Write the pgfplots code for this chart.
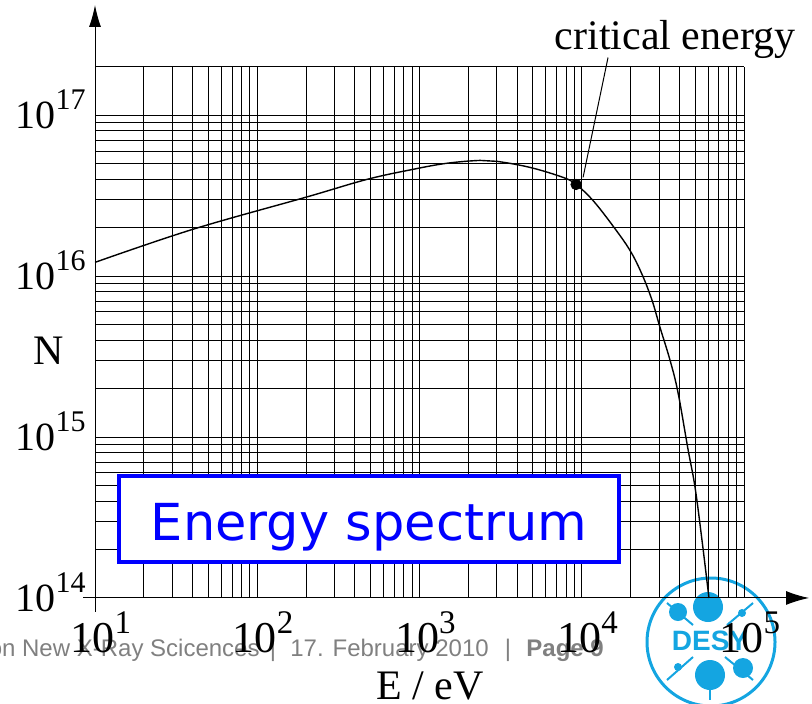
\documentclass[border=0pt]{standalone}
\usepackage{fontspec}
\setmainfont{Liberation Serif}
\newfontfamily\sansA{Liberation Sans}
\newfontfamily\dejavu{DejaVu Sans}
\usepackage{pgfplots}
\pgfplotsset{compat=1.18}
\usetikzlibrary{arrows.meta}
\definecolor{desyblue}{RGB}{20,165,225}
\definecolor{footgray}{RGB}{128,128,128}

\newcommand{\xlab}[1]{\fontsize{22}{24}\selectfont 10\rlap{\raisebox{9.5pt}[0pt][0pt]{\fontsize{16.5}{18}\selectfont #1}}}
\newcommand{\ylab}[1]{\fontsize{20}{22}\selectfont 10\raisebox{9.5pt}[0pt][0pt]{\fontsize{15}{16}\selectfont #1}}

\begin{document}
\begin{tikzpicture}[x=1pt,y=1pt]
% DESY logo (background decoration)
\begin{scope}[desyblue]
  \draw[line width=1.5pt] (308,-22) circle (32);
  \draw[line width=1pt] (286,-2.5) -- (299,-13.5) (315,-29.5) -- (329,-41);
  \draw[line width=1pt] (329,-2.5) -- (316,-13.5) (299,-29.5) -- (286,-41);
  \draw[line width=1pt] (307,3) -- (307,-12) (307.5,-31) -- (307.5,-51);
  \fill (306.5,-4.5) circle (7.5);
  \fill (307.5,-38.5) circle (7.5);
  \fill (291.5,-7) circle (4.5);
  \fill (324,-35) circle (5);
  \fill (323.5,-7.5) circle (2);
  \fill (291.5,-34.5) circle (2);
  \node[font=\sansA\bfseries\fontsize{14}{16}\selectfont, text=desyblue, inner sep=0] at (307.5,-21.5) {DESY};
\end{scope}
% footer
\begin{scope}[every node/.style={text=footgray, inner sep=0, font=\sansA\fontsize{12}{14}\selectfont}]
  \node[anchor=base east] at (82.5,-29) {on New X-Ray Scicences};
  \node[anchor=base] at (89,-29) {|};
  \node[anchor=base west] at (97.5,-29) {17. February 2010};
  \node[anchor=base] at (206.5,-29) {|};
  \node[anchor=base west] at (215.5,-29) {\bfseries Page 9};
\end{scope}

\begin{axis}[
  at={(0,0)}, anchor=south west,
  scale only axis, width=324.5pt, height=265.5pt,
  xmode=log, ymode=log, log basis x=10, log basis y=10,
  xmin=10, xmax=1e5, ymin=1e14, ymax=2e17,
  axis x line=bottom, axis y line=left,
  axis line style={black, line width=0.5pt},
  every outer x axis line/.append style={-{Latex[length=11.5pt,width=7pt]}, shorten >=-32.5pt, shorten <=-6pt},
  every outer y axis line/.append style={-{Latex[length=11pt,width=6pt]}, shorten >=-31pt, shorten <=-7pt},
  grid=both,
  major grid style={black, line width=0.5pt},
  minor grid style={black, line width=0.5pt},
  major tick length=0pt, minor tick length=0pt,
  tick style={draw=none},
  extra y ticks={2e17}, extra y tick labels={},
  extra y tick style={grid=major, major grid style={black, line width=0.5pt}},
  /pgf/number format/assume math mode=true,
  xticklabel={\xlab{\pgfmathprintnumber[fixed,precision=0]{\tick}}},
  yticklabel={\ylab{\pgfmathprintnumber[fixed,precision=0]{\tick}}},
  xticklabel style={anchor=north, inner sep=0pt, yshift=-12.5pt, xshift=-1.25pt},
  yticklabel style={anchor=east, inner sep=0pt, xshift=-4.5pt},
  clip=false,
]
\addplot[black, line width=0.7pt, smooth, tension=0.6] coordinates {
  (10, 1.22e16)
  (40.2, 1.96e16)
  (199.5, 3.10e16)
  (474, 4.00e16)
  (912, 4.62e16)
  (1476, 5.04e16)
  (2360, 5.25e16)
  (3006, 5.18e16)
  (4797, 4.75e16)
  (7656, 4.12e16)
  (9226, 3.72e16)
  (11722, 2.96e16)
  (15596, 2.05e16)
  (19815, 1.45e16)
  (23496, 1.03e16)
  (27100, 7.10e15)
  (30340, 4.82e15)
  (34990, 3.01e15)
  (39170, 1.90e15)
  (45080, 8.50e14)
  (49890, 4.89e14)
  (55080, 2.29e14)
  (60810, 1.0e14)
};
\addplot[only marks, mark=*, mark size=2.6pt, black] coordinates {(9226, 3.72e16)};
\addplot[black, line width=0.5pt] coordinates {(10190, 4.12e16) (14520, 2.29e17)};
\end{axis}

% Energy spectrum box
\draw[blue, line width=2pt, fill=white] (12,18) rectangle (262,61);
\node[anchor=base, text=blue, font=\dejavu\fontsize{25.5}{28}\selectfont, inner sep=0] at (137,29) {Energy spectrum};
% labels
\node[font=\fontsize{21}{24}\selectfont, anchor=base, inner sep=0] at (290,274) {critical energy};
\node[font=\fontsize{21}{24}\selectfont, inner sep=0] at (-23,123.5) {N};
\node[font=\fontsize{21}{24}\selectfont, anchor=base, inner sep=0] at (167.5,-50.5) {E / eV};
\pgfresetboundingbox
\useasboundingbox (-47.5,-52.5) rectangle (358.5,299);
\end{tikzpicture}
\end{document}
